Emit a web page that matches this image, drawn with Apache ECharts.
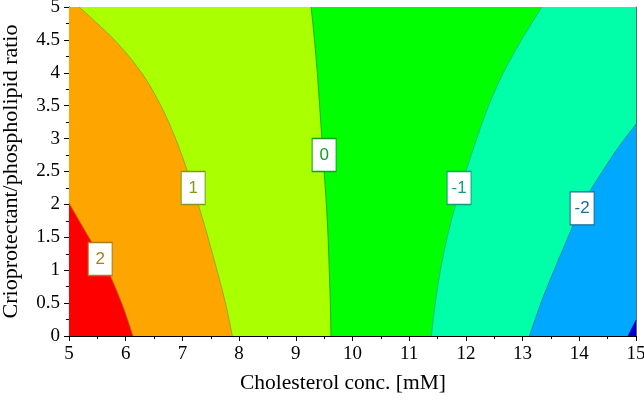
<!DOCTYPE html>
<html>
<head>
<meta charset="utf-8">
<script src="https://cdn.jsdelivr.net/npm/echarts@6/dist/echarts.min.js"></script>
<style>html,body{margin:0;padding:0;background:#fff}#c{width:644px;height:402px}</style>
</head>
<body>
<div id="c"></div>
<script>
// Axis ranges
const xRange = [5, 15];
const yRange = [0, 5];
// Contour lines, points as [cholesterol, ratio]
const contour2  = [[5.00,2.02],[5.35,1.5],[5.68,1.0],[5.93,0.5],[6.13,0]];
const contour1  = [[5.18,5],[5.80,4.5],[6.28,4],[6.62,3.5],[6.88,3],[7.09,2.5],[7.28,2],[7.45,1.5],[7.61,1],[7.76,0.5],[7.88,0]];
const contour0  = [[9.27,5],[9.33,4.5],[9.38,4],[9.42,3.5],[9.46,3],[9.50,2.5],[9.54,2],[9.57,1.5],[9.59,1],[9.61,0.5],[9.62,0]];
const contourM1 = [[13.34,5],[12.98,4.5],[12.66,4],[12.40,3.5],[12.19,3],[12.00,2.5],[11.82,2],[11.67,1.5],[11.55,1],[11.46,0.5],[11.39,0]];
const contourM2 = [[15,3.22],[14.66,2.83],[14.31,2.37],[14.05,2.0],[13.85,1.6],[13.58,1.05],[13.34,0.54],[13.12,0]];
const contourM3 = [[15,0.24],[14.86,0]];
// Contour level labels
const labelText = ['2','1','0','-1','-2'];
const labelX = [5.55, 7.19, 9.50, 11.88, 14.05];
const labelY = [1.17, 2.25, 2.75, 2.25, 1.94];

// styles
const regionColors = ['#00a8ff','#00ffa8','#00ff00','#aaff00','#ffa500','#ff0000','#0000d0'];
const labelColors = ['#a87c20','#7e9e10','#10a020','#10a078','#1a6a9a'];
const lineColors = ['#1a80b0','#10b080','#10a010','#8aa000','#b07000','#0000a0'];

const [x0,x1] = xRange, [y0,y1] = yRange;
const contours = [contourM2, contourM1, contour0, contour1, contour2, contourM3];
// region fills: [fixed corner points before contour, contour index]
const regions = [
  {pre:[[x0,y0],[x0,y1],[x1,y1],[x1,y0]], c:-1},
  {pre:[[x0,y0],[x0,y1],[x1,y1]], c:0},
  {pre:[[x0,y0],[x0,y1]], c:1},
  {pre:[[x0,y0],[x0,y1]], c:2},
  {pre:[[x0,y0],[x0,y1]], c:3},
  {pre:[[x0,y0]], c:4},
  {pre:[[x1,y0]], c:5}
];

// smooth path (Catmull-Rom -> cubic bezier) through pixel points
function splinePath(pts, start){
  let d = start ? '' : 'M' + pts[0][0] + ' ' + pts[0][1];
  if (start) d += 'L' + pts[0][0] + ' ' + pts[0][1];
  for (let i = 0; i < pts.length - 1; i++) {
    const p0 = pts[Math.max(0,i-1)], p1 = pts[i], p2 = pts[i+1], p3 = pts[Math.min(pts.length-1,i+2)];
    const c1 = [p1[0] + (p2[0]-p0[0])/6, p1[1] + (p2[1]-p0[1])/6];
    const c2 = [p2[0] - (p3[0]-p1[0])/6, p2[1] - (p3[1]-p1[1])/6];
    d += 'C' + c1[0] + ' ' + c1[1] + ' ' + c2[0] + ' ' + c2[1] + ' ' + p2[0] + ' ' + p2[1];
  }
  return d;
}

const chart = echarts.init(document.getElementById('c'));
const serif = '"Liberation Serif","Times New Roman",serif';
chart.setOption({
  animation:false,
  grid:{left:69, right:8, top:7, bottom:66, outerBoundsMode:'none', containLabel:false},
  xAxis:[{
    type:'value', min:x0, max:x1, interval:1,
    name:'Cholesterol conc. [mM]', nameLocation:'middle', nameGap:36,
    nameTextStyle:{fontFamily:serif, fontSize:21.5, color:'#000', padding:[0,19,0,0]},
    axisLine:{show:true, onZero:false, lineStyle:{color:'#000', width:1}},
    axisTick:{show:true, inside:false, length:5, lineStyle:{color:'#000'}},
    minorTick:{show:true, splitNumber:2, length:3, lineStyle:{color:'#000'}},
    splitLine:{show:false},
    axisLabel:{fontFamily:serif, fontSize:19, color:'#000', margin:9}
  },{
    type:'value', min:x0, max:x1, position:'top',
    axisLine:{show:true, onZero:false, lineStyle:{color:'#666', width:1}},
    axisTick:{show:false}, axisLabel:{show:false}, splitLine:{show:false}
  }],
  yAxis:[{
    type:'value', min:y0, max:y1, interval:0.5,
    name:'Crioprotectant/phospholipid ratio', nameLocation:'middle', nameGap:47,
    nameTextStyle:{fontFamily:serif, fontSize:22, color:'#000'},
    axisLine:{show:true, onZero:false, lineStyle:{color:'#000', width:1}},
    axisTick:{show:true, inside:false, length:5, lineStyle:{color:'#000'}},
    minorTick:{show:true, splitNumber:2, length:3, lineStyle:{color:'#000'}},
    splitLine:{show:false},
    axisLabel:{fontFamily:serif, fontSize:19, color:'#000', margin:9}
  },{
    type:'value', min:y0, max:y1, position:'right',
    axisLine:{show:true, onZero:false, lineStyle:{color:'#666', width:1}},
    axisTick:{show:false}, axisLabel:{show:false}, splitLine:{show:false}
  }],
  series:[{
    type:'custom', silent:true, z:1,
    data: regions.map((r,i)=>[i]),
    renderItem:(params, api)=>{
      const i = api.value(0);
      const r = regions[i];
      const pre = r.pre.map(p=>api.coord(p));
      let d = 'M' + pre[0][0] + ' ' + pre[0][1];
      for (let k = 1; k < pre.length; k++) d += 'L' + pre[k][0] + ' ' + pre[k][1];
      if (r.c >= 0) d += splinePath(contours[r.c].map(p=>api.coord(p)), true);
      d += 'Z';
      return {type:'path', shape:{pathData:d}, style:{fill:regionColors[i], stroke:null}};
    }
  },{
    type:'custom', silent:true, z:3,
    data: contours.map((c,i)=>[i]),
    renderItem:(params, api)=>{
      const i = api.value(0);
      const d = splinePath(contours[i].map(p=>api.coord(p)), false);
      return {type:'path', shape:{pathData:d}, style:{fill:null, stroke:lineColors[i], lineWidth:1, opacity:0.8}};
    }
  },{
    type:'scatter', z:5, symbol:'rect', symbolSize:[24,33],
    data: labelText.map((t,i)=>({
      value:[labelX[i], labelY[i]], name:t,
      itemStyle:{color:'#fff', borderColor:labelColors[i], borderWidth:1.2, opacity:1},
      label:{show:true, position:'inside', formatter:t, color:labelColors[i],
             fontFamily:'"Liberation Sans","DejaVu Sans",sans-serif', fontSize:17}
    }))
  }]
});
</script>
</body>
</html>
